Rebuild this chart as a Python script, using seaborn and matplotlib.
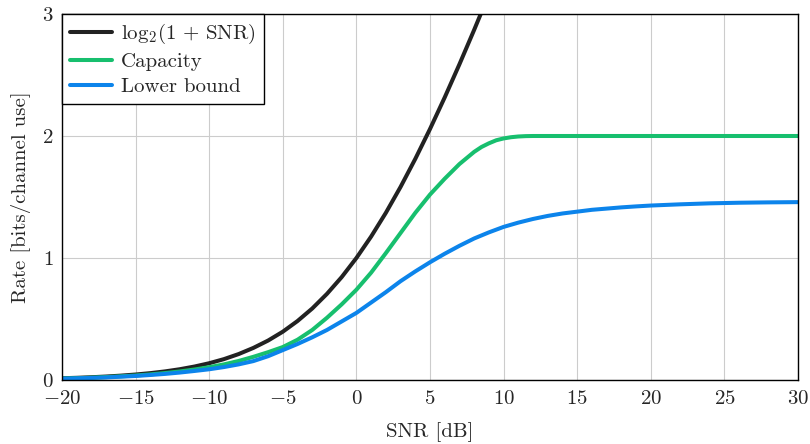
import numpy as np
import pandas as pd
import matplotlib
matplotlib.use("Agg")
import matplotlib.pyplot as plt
import seaborn as sns

# SNR grid (dB) for the Gaussian-input curve (clipped by the y-limit above 9 dB)
snr_gauss_db = [-20, -19, -18, -17, -16, -15, -14, -13, -12, -11, -10, -9, -8, -7,
                -6, -5, -4, -3, -2, -1, 0, 1, 2, 3, 4, 5, 6, 7, 8, 9]
rate_gauss = [0.0144, 0.0180, 0.0227, 0.0285, 0.0358, 0.0449, 0.0563, 0.0705,
              0.0883, 0.1104, 0.1375, 0.1710, 0.2126, 0.2630, 0.3233, 0.3959,
              0.4835, 0.5861, 0.7061, 0.8434, 1.0000, 1.1757, 1.3701, 1.5827,
              1.8123, 2.0574, 2.3165, 2.5880, 2.8700, 3.1610]

# Capacity of the finite constellation (finer steps around the saturation knee)
snr_cap_db = [-20, -19, -18, -17, -16, -15, -14, -13, -12, -11, -10, -9, -8, -7, -6,
              -5, -4, -3, -2, -1, 0, 1, 2, 3, 4, 4.5, 5, 5.5, 6, 6.5, 7, 7.5, 8,
              8.5, 9, 9.5, 10, 10.5, 11, 11.5, 12, 14, 16, 18, 20, 22, 24, 26, 28, 30]
capacity = [0.012, 0.015, 0.019, 0.024, 0.030, 0.037, 0.046, 0.057, 0.070, 0.086,
            0.105, 0.128, 0.156, 0.190, 0.228, 0.270, 0.330, 0.410, 0.510, 0.620,
            0.740, 0.880, 1.040, 1.205, 1.370, 1.445, 1.520, 1.585, 1.650, 1.710,
            1.770, 1.820, 1.870, 1.910, 1.940, 1.965, 1.980, 1.990, 1.996, 1.999,
            2.000, 2.000, 2.000, 2.000, 2.000, 2.000, 2.000, 2.000, 2.000, 2.000]

# Lower bound on the rate
snr_lb_db = [-20, -19, -18, -17, -16, -15, -14, -13, -12, -11, -10, -9, -8, -7, -6,
             -5, -4, -3, -2, -1, 0, 1, 2, 3, 4, 5, 6, 7, 8, 9, 10, 11, 12, 13, 14,
             15, 16, 17, 18, 19, 20, 22, 24, 26, 28, 30]
lower_bound = [0.011, 0.014, 0.017, 0.021, 0.027, 0.033, 0.041, 0.050, 0.061, 0.074,
               0.088, 0.106, 0.128, 0.155, 0.195, 0.245, 0.295, 0.350, 0.410, 0.480,
               0.550, 0.635, 0.720, 0.810, 0.890, 0.965, 1.035, 1.100, 1.160, 1.210,
               1.255, 1.290, 1.320, 1.345, 1.365, 1.380, 1.395, 1.405, 1.415, 1.423,
               1.430, 1.440, 1.448, 1.453, 1.456, 1.458]

x_ticks = [-20, -15, -10, -5, 0, 5, 10, 15, 20, 25, 30]
y_ticks = [0, 1, 2, 3]

labels = [r"$\mathrm{log}_2(1\,+\,\mathrm{SNR})$", "Capacity", "Lower bound"]
colors = ["#222222", "#17BF6E", "#0C84EB"]

sns.set_theme(style="whitegrid")
plt.rcParams.update({
    "font.family": ["cmr10", "DejaVu Serif"],
    "mathtext.fontset": "cm",
    "axes.formatter.use_mathtext": True,
    "axes.unicode_minus": True,
    "font.size": 15,
})

fig = plt.figure(figsize=(8.1, 4.44), dpi=100)
ax = fig.add_axes([62 / 810, 1 - 380 / 444, (798 - 62) / 810, (380 - 14) / 444])

series = [
    pd.DataFrame({"snr": snr_gauss_db, "rate": rate_gauss}),
    pd.DataFrame({"snr": snr_cap_db, "rate": capacity}),
    pd.DataFrame({"snr": snr_lb_db, "rate": lower_bound}),
]

for df, lab, col in zip(series, labels, colors):
    sns.lineplot(data=df, x="snr", y="rate", ax=ax, color=col, lw=2.9,
                 label=lab, estimator=None, sort=False)

ax.set_xlim(-20, 30)
ax.set_ylim(0, 3)
ax.set_xticks(x_ticks)
ax.set_yticks(y_ticks)
ax.set_xlabel("SNR [dB]", fontsize=15, labelpad=10)
ax.set_ylabel("Rate [bits/channel use]", fontsize=15, labelpad=8)
ax.tick_params(axis="both", labelsize=15, direction="in", length=4,
               color="#555555", width=0.8)
ax.tick_params(axis="x", pad=7.5)
ax.tick_params(axis="y", pad=6)
ax.grid(True, color="#cccccc", lw=0.8)
ax.set_facecolor("white")
for s in ax.spines.values():
    s.set_visible(True)
    s.set_color("black")
    s.set_linewidth(1.0)

leg = ax.legend(loc="upper left", frameon=True, fancybox=False, fontsize=15,
                borderaxespad=0.0, handlelength=2.0, handletextpad=0.45,
                borderpad=0.4, labelspacing=0.3)
leg.get_frame().set_edgecolor("black")
leg.get_frame().set_linewidth(1.0)
leg.get_frame().set_alpha(1.0)

fig.savefig("out.png", dpi=100, facecolor="white")
